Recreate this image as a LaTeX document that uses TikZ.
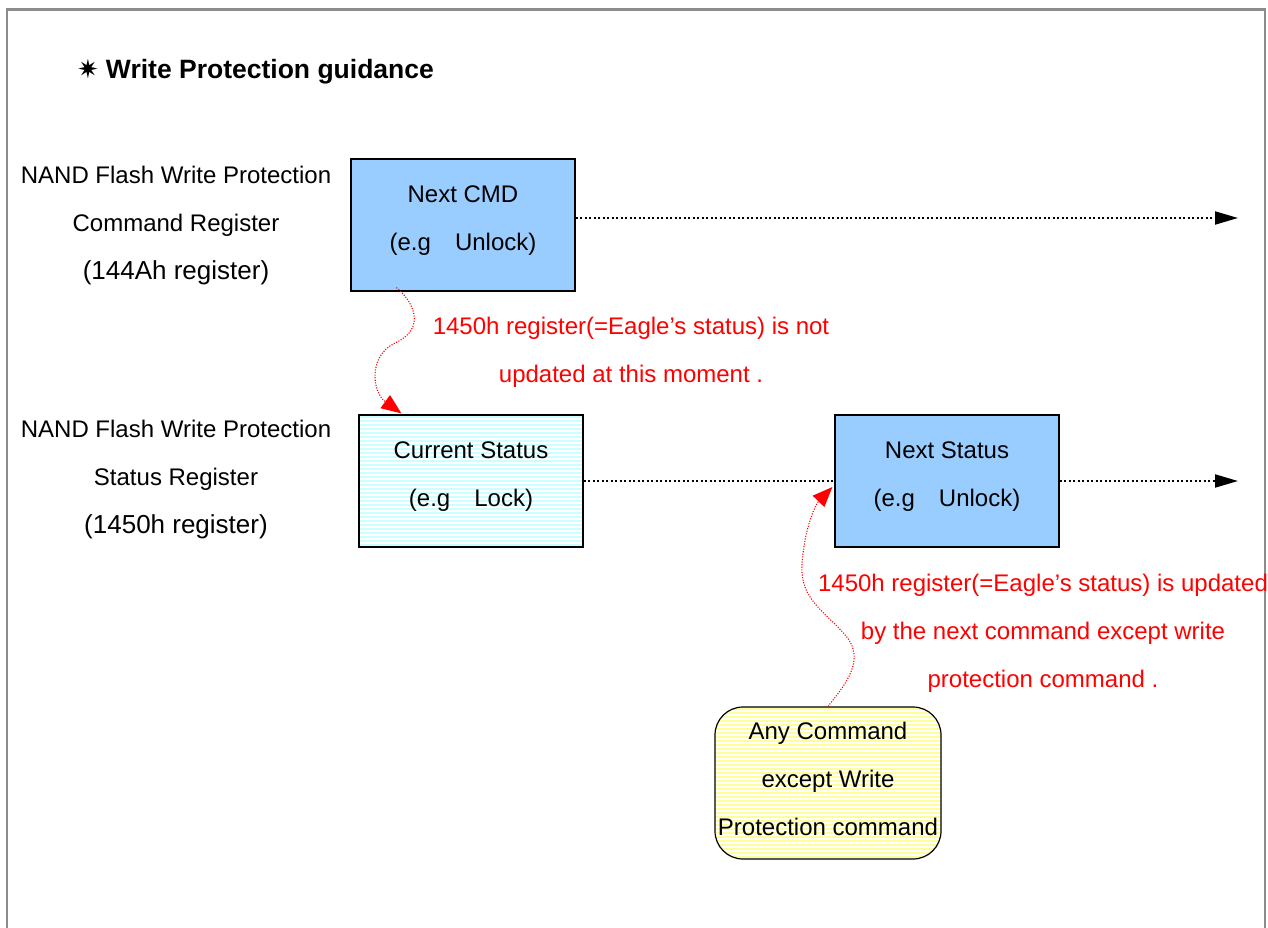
\documentclass[tikz,border=0pt]{standalone}
\usepackage{fontspec}
\setmainfont{Liberation Sans}
\newfontfamily\dejavu{DejaVu Sans}
\usetikzlibrary{arrows.meta,calc}
\definecolor{boxblue}{HTML}{99CCFF}
\definecolor{boxcyan}{HTML}{CCFFFF}
\definecolor{boxyellow}{HTML}{FFFF99}
\definecolor{framegray}{HTML}{8C8C8C}
\begin{document}
\begin{tikzpicture}[x=1pt,y=-1pt,
  txt/.style={inner sep=0pt,align=center,font=\fontsize{24}{48}\selectfont},
  redtxt/.style={txt,text=red},
  regbox/.style={draw=black,line width=1.2pt,minimum width=224pt,minimum height=132pt,inner sep=0pt},
  stripes/.style={path picture={\foreach \k in {1,...,40}{\draw[white,line width=1.2pt] ([yshift=-4*\k pt]path picture bounding box.north west) -- ([yshift=-4*\k pt]path picture bounding box.north east);}}},
  flow/.style={line width=2pt,dash pattern=on 2pt off 2.5pt,-{Triangle[length=23pt,width=13pt]}},
  flownotip/.style={line width=2pt,dash pattern=on 2pt off 2.5pt},
  redarr/.style={red,line width=1.1pt,dash pattern=on 1.1pt off 1.5pt,-{Triangle[length=20pt,width=16pt]}}
]
\useasboundingbox (0,0) rectangle (1268,928);
\fill[white] (0,0) rectangle (1268,928);
% frame
\draw[framegray,line width=2.5pt] (7,940) -- (7,9.5) -- (1265,9.5) -- (1265,940);
% title
\node[anchor=west,inner sep=0pt,font=\fontsize{26.5}{30}\selectfont\bfseries] (title) at (77,72) {{\dejavu\fontsize{26}{28}\selectfont ✷}\hspace{7pt}Write Protection guidance};
% left labels
\node[txt] (lab1) at (176,226) {NAND Flash Write Protection\\Command Register\\{\fontsize{26}{48}\selectfont(144Ah register)}};
\node[txt] (lab2) at (176,479) {NAND Flash Write Protection\\Status Register\\{\fontsize{26}{48}\selectfont(1450h register)}};
% boxes
\node[regbox,fill=boxblue] (cmd) at (463,225) {};
\node[txt] (cmdtxt) at ($(cmd.center)+(0,-4)$) {Next CMD\\(e.g\hspace{24pt}Unlock)};
\node[regbox,fill=boxcyan,stripes] (cur) at (471,481) {};
\node[txt] (curtxt) at ($(cur.center)+(0,-4)$) {Current Status\\(e.g\hspace{24pt}Lock)};
\node[regbox,fill=boxblue] (nst) at (947,481) {};
\node[txt] (nsttxt) at ($(nst.center)+(0,-4)$) {Next Status\\(e.g\hspace{24pt}Unlock)};
\node[regbox,fill=boxyellow,stripes,rounded corners=28pt,minimum width=226pt,minimum height=152pt] (any) at (828,783) {};
\node[txt] (anytxt) at ($(any.center)+(0,-4)$) {Any Command\\except Write\\Protection command};
% black dotted flows
\coordinate (end1) at (1238,218);
\coordinate (end2) at (1238,481);
\draw[flow] ($(cmd.east)+(0,-7)$) -- (end1);
\draw[flownotip] (cur.east) -- (nst.west);
\draw[flow] (nst.east) -- (end2);
% red curved arrows
\draw[redarr] ($(cmd.south west)+(46,-4)$) .. controls (412,300) and (428,328) .. (395,343) .. controls (368,356) and (372,392) .. ($(cur.north west)+(43,-1)$);
\draw[redarr] (any.north) .. controls (845,685) and (866,660) .. (846,636) .. controls (826,612) and (800,600) .. (802,565) .. controls (804,530) and (815,505) .. ($(nst.west)+(-2,6)$);
% red texts
\node[redtxt] (note1) at (631,352) {1450h register(=Eagle’s status) is not\\updated at this moment .};
\node[redtxt] (note2) at (1043,633) {1450h register(=Eagle’s status) is updated\\by the next command except write\\protection command .};
\end{tikzpicture}
\end{document}
